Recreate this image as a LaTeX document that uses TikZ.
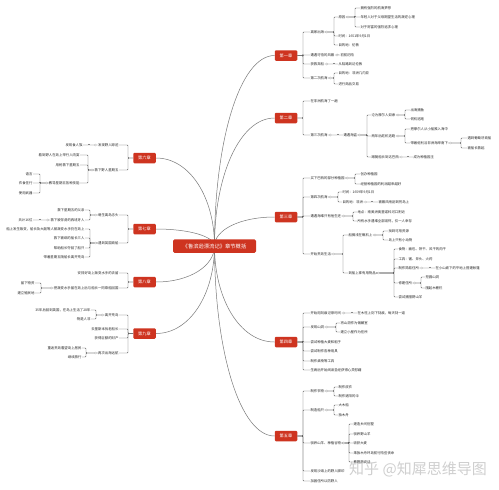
\documentclass[tikz,border=0pt]{standalone}
\usepackage{fontspec}
\setmainfont{Noto Sans CJK SC}
\usetikzlibrary{backgrounds,calc}
\definecolor{chred}{RGB}{206,52,32}
\definecolor{lnk}{RGB}{90,90,90}
\definecolor{crv}{RGB}{120,120,120}
\newcommand{\tf}{\fontsize{3.4pt}{4pt}\selectfont}
\newcommand{\cf}{\fontsize{4.2pt}{5pt}\selectfont}
\newcommand{\rf}{\fontsize{5.3pt}{6pt}\selectfont}
\newcommand{\wf}{\fontsize{15pt}{17pt}\selectfont}
\newcommand{\RB}[3]{\foreach \nn in {#3}{\draw[br] (#1.east) -- (#2,0 |- #1.east) |- (\nn.west);}}
\newcommand{\RBt}[3]{\RB{#1}{#2}{#3}\draw[tg] ([xshift=2.2pt]#1.east) circle (1.1pt);}
\newcommand{\LB}[3]{\foreach \nn in {#3}{\draw[br] (#1.west) -- (#2,0 |- #1.west) |- (\nn.east);}}
\newcommand{\LBt}[3]{\LB{#1}{#2}{#3}\draw[tg] ([xshift=-2.2pt]#1.west) circle (1.1pt);}
\newcommand{\crv}[1]{\draw[crvs] (root.center) .. controls ($(root.center)!0.55!(root.center |- #1)$) and ($(#1)!0.58!(root.center |- #1)$) .. (#1);}
\begin{document}
\begin{tikzpicture}[x=1pt,y=-1pt,
  tx/.style={inner sep=0.3pt, font=\tf, text=black!85},
  rtx/.style={tx, anchor=west},
  ltx/.style={tx, anchor=east},
  chap/.style={fill=chred, rounded corners=1.2pt, text=white, font=\cf, minimum width=22.5pt, minimum height=10.5pt, inner sep=0pt},
  rootbox/.style={fill=chred, rounded corners=1.5pt, text=white, font=\rf, minimum width=83pt, minimum height=13.5pt, inner sep=0pt},
  br/.style={draw=lnk, line width=0.45pt, rounded corners=0.8pt},
  tg/.style={draw=gray!55, line width=0.3pt, fill=white},
  crvs/.style={draw=crv, line width=0.5pt},
  wm/.style={font=\wf, text=gray!50, opacity=0.75}
]
\useasboundingbox (0,0) rectangle (499,490);
% root
\node[rootbox] (root) at (214.5,246) {《鲁滨逊漂流记》章节概括};
% ---------- chapter 1
\node[chap] (ch1) at (286,55.5) {第一章};
\node[rtx] (a1) at (310,32) {离家出海};
\node[rtx] (a1a) at (338,17) {原因};
\node[rtx] (a1a1) at (360,8) {拥有强烈的航海梦想};
\node[rtx] (a1a2) at (360,17) {年轻人对于父母期望生活的叛逆心理};
\node[rtx] (a1a3) at (360,27) {对于财富的强烈追求心理};
\node[rtx] (a1b) at (338,36) {时间：1651年9月1日};
\node[rtx] (a1c) at (338,45) {目的地：伦敦};
\node[rtx] (a2) at (310,55) {遭遇可怕的风暴};
\node[rtx] (a2a) at (340,55) {初航历险};
\node[rtx] (a3) at (310,64) {获救弃船};
\node[rtx] (a3a) at (338,64) {从陆路到达伦敦};
\node[rtx] (a4) at (310,78) {第二次航海};
\node[rtx] (a4a) at (338,73) {目的地：非洲几内亚};
\node[rtx] (a4b) at (338,84) {进行商品交易};
\RB{ch1}{303}{a1,a2,a3,a4}
\RBt{a1}{334}{a1a,a1b,a1c}
\RBt{a1a}{355}{a1a1,a1a2,a1a3}
\RBt{a2}{337.5}{a2a}
\RBt{a3}{334}{a3a}
\RBt{a4}{334}{a4a,a4b}
% ---------- chapter 2
\node[chap] (ch2) at (286,118) {第二章};
\node[rtx] (b1) at (310,101) {在非洲航海了一趟};
\node[rtx] (b2) at (310,135) {第三次航海};
\node[rtx] (b2a) at (343,135) {遭遇海盗};
\node[rtx] (b2a1) at (371,115) {沦为摩尔人奴隶};
\node[rtx] (b2a1a) at (410,110) {出海捕鱼};
\node[rtx] (b2a1b) at (410,119) {伺机逃跑};
\node[rtx] (b2a2) at (371,136) {两年后趁机逃跑};
\node[rtx] (b2a2a) at (410,129) {把摩尔人从小船推入海中};
\node[rtx] (b2a2b) at (410,143) {带着佐利沿非洲海岸南下};
\node[rtx] (b2a2b1) at (467,138) {遇到葡萄牙商船};
\node[rtx] (b2a2b2) at (467,148) {被船长救起};
\node[rtx] (b2a3) at (371,157) {跟随船长到达巴西};
\node[rtx] (b2a3a) at (413,157) {成为种植园主};
\RB{ch2}{303}{b1,b2}
\RBt{b2}{338}{b2a}
\RBt{b2a}{367}{b2a1,b2a2,b2a3}
\RBt{b2a1}{405}{b2a1a,b2a1b}
\RBt{b2a2}{405}{b2a2a,b2a2b}
\RBt{b2a2b}{461}{b2a2b1,b2a2b2}
\RBt{b2a3}{408}{b2a3a}
% ---------- chapter 3
\node[chap] (ch3) at (286,217) {第三章};
\node[rtx] (c1) at (310,178) {买下巴西的部分种植园};
\node[rtx] (c1a) at (360,174) {创办种植园};
\node[rtx] (c1b) at (360,184) {经营种植园的利润越来越好};
\node[rtx] (c2) at (310,197) {第四次航海};
\node[rtx] (c2a) at (342,192) {时间：1659年9月1日};
\node[rtx] (c2b) at (342,202) {目的地：非洲};
\node[rtx] (c2b1) at (378,202) {被暴风雨刮到荒岛上};
\node[rtx] (c3) at (310,216) {遭遇海难只有他生还};
\node[rtx] (c3a) at (357,212) {地点：南美洲奥里诺科河口附近};
\node[rtx] (c3b) at (357,221) {所有水手遇难全部溺死，仅一人幸存};
\node[rtx] (c4) at (310,254) {开始荒岛生活};
\node[rtx] (c4a) at (348,235) {船搁浅在礁石上};
\node[rtx] (c4a1) at (388,231) {找到可用资源};
\node[rtx] (c4a2) at (388,240) {岛上只有小动物};
\node[rtx] (c4b) at (348,273) {到船上拿有用物品};
\node[rtx] (c4b1) at (398,249) {食物：面包、饼干、风干的肉干};
\node[rtx] (c4b2) at (398,259) {工具：锯、斧头、火药};
\node[rtx] (c4b3) at (398,268) {制作简易住所};
\node[rtx] (c4b3a) at (435,268) {在小山坡下的平地上搭建帐篷};
\node[rtx] (c4b4) at (398,283) {修建住所};
\node[rtx] (c4b4a) at (425,277) {挖掘山洞};
\node[rtx] (c4b4b) at (425,288) {围起木栅栏};
\node[rtx] (c4b5) at (398,297) {尝试捕猎野山羊};
\RB{ch3}{303}{c1,c2,c3,c4}
\RBt{c1}{355}{c1a,c1b}
\RBt{c2}{338}{c2a,c2b}
\RBt{c2b}{372}{c2b1}
\RBt{c3}{353}{c3a,c3b}
\RBt{c4}{343}{c4a,c4b}
\RBt{c4a}{383}{c4a1,c4a2}
\RBt{c4b}{394}{c4b1,c4b2,c4b3,c4b4,c4b5}
\RBt{c4b3}{430}{c4b3a}
\RBt{c4b4}{421}{c4b4a,c4b4b}
% ---------- chapter 4
\node[chap] (ch4) at (286,342) {第四章};
\node[rtx] (d1) at (310,313) {开始用刻痕记录时间};
\node[rtx] (d1a) at (357,313) {在木柱上刻下刻痕，每天刻一道};
\node[rtx] (d2) at (310,327) {发现山洞};
\node[rtx] (d2a) at (340,323) {将山洞作为储藏室};
\node[rtx] (d2b) at (340,332) {建立小屋作为住所};
\node[rtx] (d3) at (310,342) {尝试种植大麦和稻子};
\node[rtx] (d4) at (310,351) {尝试制作各种用具};
\node[rtx] (d5) at (310,361) {制作桌椅等工具};
\node[rtx] (d6) at (310,370) {生病后开始阅读圣经获得心灵慰藉};
\RB{ch4}{303}{d1,d2,d3,d4,d5,d6}
\RBt{d1}{352}{d1a}
\RBt{d2}{336}{d2a,d2b}
% ---------- chapter 5
\node[chap] (ch5) at (286,436) {第五章};
\node[rtx] (e1) at (310,391) {制作衣物};
\node[rtx] (e1a) at (338,387) {制作皮衣};
\node[rtx] (e1b) at (338,396) {制作遮阳的伞};
\node[rtx] (e2) at (310,410) {制造船只};
\node[rtx] (e2a) at (338,405) {大木船};
\node[rtx] (e2b) at (338,415) {独木舟};
\node[rtx] (e3) at (310,443) {驯养山羊、种植谷物};
\node[rtx] (e3a) at (353,424) {建造乡间别墅};
\node[rtx] (e3b) at (353,434) {驯养野山羊};
\node[rtx] (e3c) at (353,443) {收获大麦};
\node[rtx] (e3d) at (353,453) {乘独木舟环岛航行险些丧命};
\node[rtx] (e3e) at (353,462) {教鹦鹉说话};
\node[rtx] (e4) at (310,471) {发现沙滩上的野人脚印};
\node[rtx] (e5) at (310,481) {加固住所以防野人};
\RB{ch5}{303}{e1,e2,e3,e4,e5}
\RBt{e1}{334}{e1a,e1b}
\RBt{e2}{334}{e2a,e2b}
\RBt{e3}{349}{e3a,e3b,e3c,e3d,e3e}
% ---------- chapter 6
\node[chap] (ch6) at (144.5,158) {第六章};
\node[ltx] (f1) at (119,145) {发现野人踪迹};
\node[ltx] (f1a) at (83,145) {发现食人族};
\node[ltx] (f2) at (119,170) {救下野人星期五};
\node[ltx] (f2a) at (80,155) {看到野人在岛上举行人肉宴};
\node[ltx] (f2b) at (80,165) {用枪救下星期五};
\node[ltx] (f2c) at (80,183) {教导星期五各种技能};
\node[ltx] (f2c1) at (33,174) {语言};
\node[ltx] (f2c2) at (33,183) {衣食住行};
\node[ltx] (f2c3) at (33,193) {使用武器};
\LB{ch6}{128}{f1,f2}
\LBt{f1}{89}{f1a}
\LBt{f2}{88}{f2a,f2b,f2c}
\LBt{f2c}{40}{f2c1,f2c2,f2c3}
% ---------- chapter 7
\node[chap] (ch7) at (144.5,229) {第七章};
\node[ltx] (g1) at (119,215) {萌生离岛念头};
\node[ltx] (g1a) at (85,210) {救下星期五的父亲};
\node[ltx] (g1b) at (85,220) {救下被俘虏的西班牙人};
\node[ltx] (g1b1) at (33,220) {共计16位};
\node[ltx] (g2) at (119,243) {遇到英国商船};
\node[ltx] (g2a) at (85,229) {船上发生叛变，船长及大副等人被叛变水手扔在岛上};
\node[ltx] (g2b) at (85,238) {救下被绑的船长三人};
\node[ltx] (g2c) at (85,248) {帮助船长夺回了船只};
\node[ltx] (g2d) at (85,257) {带着星期五随船长离开荒岛};
\LB{ch7}{128}{g1,g2}
\LBt{g1}{90}{g1a,g1b}
\LBt{g1b}{40}{g1b1}
\LBt{g2}{90}{g2a,g2b,g2c,g2d}
% ---------- chapter 8
\node[chap] (ch8) at (144.5,282) {第八章};
\node[ltx] (h1) at (119,273) {安排好岛上叛变水手的去留};
\node[ltx] (h2) at (119,288) {把叛变水手留在岛上后与船长一同乘船回国};
\node[ltx] (h2a) at (35,283) {留下物资};
\node[ltx] (h2b) at (35,293) {建立殖民地};
\LB{ch8}{128}{h1,h2}
\LBt{h2}{41}{h2a,h2b}
% ---------- chapter 9
\node[chap] (ch9) at (144.5,333.5) {第九章};
\node[ltx] (i1) at (119,315) {离开荒岛};
\node[ltx] (i1a) at (91,310) {35年后回到英国，在岛上生活了28年};
\node[ltx] (i1b) at (91,319) {物是人非};
\node[ltx] (i2) at (119,329) {去里斯本找老船长};
\node[ltx] (i3) at (119,338) {获得巨额的财产};
\node[ltx] (i4) at (119,353) {再次出海远航};
\node[ltx] (i4a) at (82,348) {重返荒岛看望岛上居民};
\node[ltx] (i4b) at (82,357) {继续旅行};
\LB{ch9}{128}{i1,i2,i3,i4}
\LBt{i1}{96}{i1a,i1b}
\LBt{i4}{86}{i4a,i4b}
% watermark
\node[wm] (wmk) at (418,469) {知乎 @知犀思维导图};
% curves behind
\begin{scope}[on background layer]
\fill[white] (0,0) rectangle (499,490);
\crv{ch1.west}\crv{ch2.west}\crv{ch3.west}\crv{ch4.west}\crv{ch5.west}
\crv{ch6.east}\crv{ch7.east}\crv{ch8.east}\crv{ch9.east}
\end{scope}
\end{tikzpicture}
\end{document}
